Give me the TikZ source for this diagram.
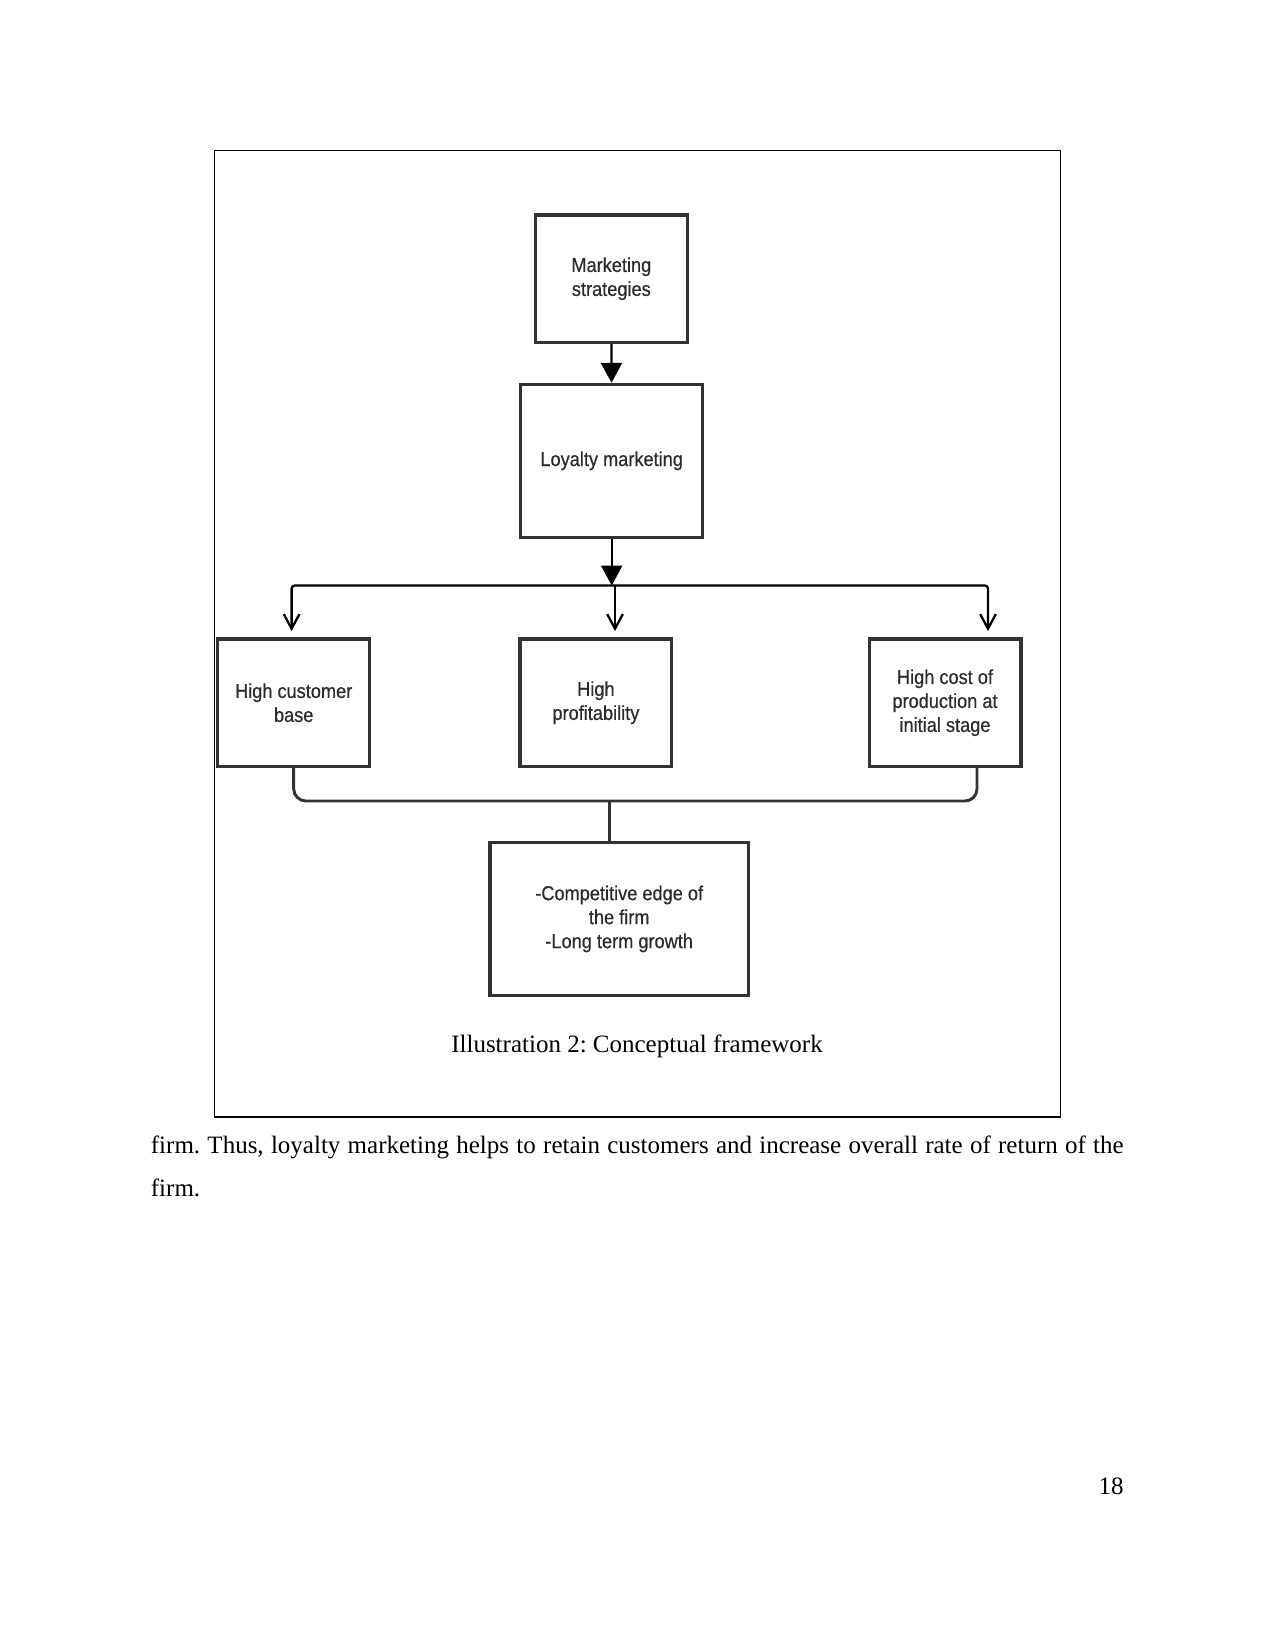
\documentclass[tikz,border=0pt]{standalone}
\usepackage{fontspec}
\setmainfont{Liberation Serif}
\newfontfamily\diagfont[FakeStretch=0.9,FakeBold=0.4]{Liberation Sans}
\usepackage{tikz}
\usetikzlibrary{arrows.meta,calc,positioning}
\frenchspacing

\definecolor{boxgray}{HTML}{333333}
\definecolor{textgray}{HTML}{2B2B2B}

\tikzset{
  blk/.style={draw=boxgray,line width=1.5pt,fill=white,align=center,
    text=textgray,inner sep=2pt,font=\diagfont\fontsize{9.7}{11.5}\selectfont},
  smallblk/.style={blk,minimum width=72.9pt,minimum height=61.2pt},
  bigblk/.style={blk,minimum width=87.4pt,minimum height=73.4pt},
  wideblk/.style={blk,minimum width=124pt,minimum height=73.5pt},
  feed/.style={line width=1.1pt,-{Triangle[length=9.5pt,width=10pt]}},
  barb/.style={line width=1.1pt,rounded corners=1.5pt,shorten >=3pt,
    -{Straight Barb[length=7pt,width=7.5pt,line width=1.1pt]}},
  lowwire/.style={draw=boxgray,line width=1.4pt,rounded corners=5.8pt},
}

\begin{document}
\begin{tikzpicture}[x=0.48pt,y=-0.48pt]
  \useasboundingbox (0,0) rectangle (1275,1651);
  % figure frame
  \draw[line width=0.5pt] (214.8,150.6) rectangle (1060.2,1117);

  % boxes
  \node[smallblk] (mkt) at (611.3,278.7) {Marketing\\strategies};
  \node[bigblk]   (loy) at (611.7,460.8) {Loyalty marketing};
  \node[smallblk] (cust) at (293.7,702.7) {High customer\\base};
  \node[smallblk] (prof) at (595.9,702.7) {High\\profitability};
  \node[smallblk] (cost) at (945,702.7) {High cost of\\production at\\initial stage};
  \node[wideblk]  (edge) at (619.2,918.9) {-Competitive edge of\\the firm\\-Long term growth};

  % split points
  \coordinate (jn) at (611.7,585.5);
  \coordinate (busL) at (291.6,585.5);
  \coordinate (busM) at (615,585.5);
  \coordinate (busR) at (988,585.5);
  \coordinate (lo) at (609.5,801);
  \coordinate (loR) at (977,801);

  % connectors
  \draw[feed] (mkt) -- (loy);
  \draw[feed] (loy) -- (jn);
  \draw[barb] (busM) -| (cust.north -| busL);
  \draw[barb] (busM) -- (prof.north -| busM);
  \draw[barb] (busM) -| (cost.north -| busR);
  \draw[lowwire] (cust.south) |- (lo) -| (cost.south -| loR);
  \draw[lowwire] (lo) -- (lo |- edge.north);

  % caption and text
  \node[anchor=base,font=\fontsize{12}{14}\selectfont] (cap) at (637,1052)
    {Illustration 2: Conceptual framework};
  \node[anchor=base west,inner sep=0pt,font=\fontsize{12}{14}\selectfont] (line1) at (150.5,1153)
    {\makebox[466.9pt][s]{firm. Thus, loyalty marketing helps to retain customers and increase overall rate of return of the}};
  \node[anchor=base west,inner sep=0pt,font=\fontsize{12}{14}\selectfont] (line2) at (150.5,1196) {firm.};
  \node[anchor=base east,inner sep=0pt,font=\fontsize{12}{14}\selectfont] (pageno) at (1124,1494) {18};
\end{tikzpicture}
\end{document}
